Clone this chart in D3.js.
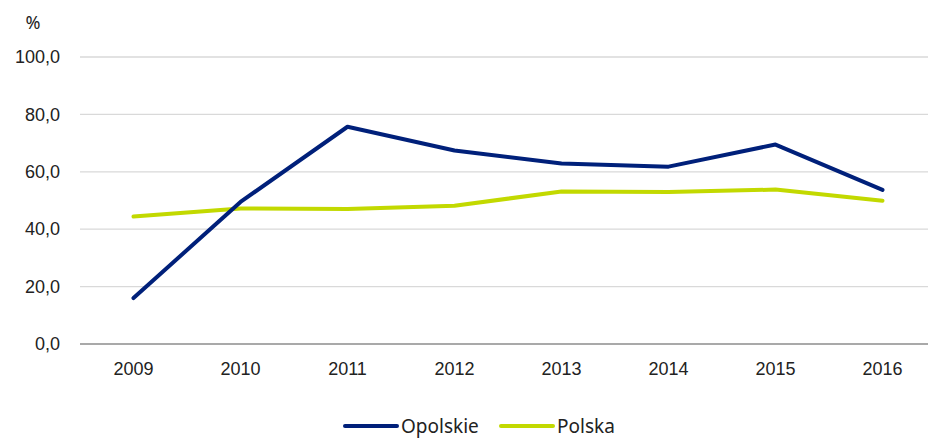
<!DOCTYPE html>
<html>
<head>
<meta charset="utf-8">
<script src="https://cdn.jsdelivr.net/npm/d3@7"></script>
<style>
  body { margin: 0; background: #fff; }
  svg { display: block; font-family: "Noto Sans", sans-serif; }
</style>
</head>
<body>
<div id="chart"></div>
<script>
const years = ['2009', '2010', '2011', '2012', '2013', '2014', '2015', '2016'];
const opolskie = [16.0, 49.5, 75.7, 67.4, 62.9, 61.8, 69.5, 53.7];
const polska = [44.4, 47.2, 47.0, 48.2, 53.1, 53.0, 53.8, 49.9];
const yTicks = [0, 20, 40, 60, 80, 100];

const width = 928, height = 439;
const margin = {top: 57, right: -8, bottom: 95, left: 80};

const svg = d3.select('#chart')
    .append('svg')
    .attr('width', width)
    .attr('height', height);

const x = d3.scaleBand()
    .domain(years)
    .range([margin.left, width - margin.right])
    .padding(0);

const y = d3.scaleLinear()
    .domain([0, 100])
    .range([height - margin.bottom, margin.top]);

// gridlines
svg.append('g')
    .selectAll('line')
    .data(yTicks.filter(d => d > 0))
    .enter()
    .append('line')
    .attr('x1', margin.left)
    .attr('x2', width)
    .attr('y1', d => y(d))
    .attr('y2', d => y(d))
    .attr('stroke', '#d9d9d9')
    .attr('stroke-width', 1.3);

// y axis labels
const yAxis = svg.append('g')
    .attr('transform', `translate(${margin.left},0)`)
    .call(d3.axisLeft(y).tickValues(yTicks).tickSize(0).tickPadding(20)
        .tickFormat(d => d3.format('.1f')(d).replace('.', ',')));
yAxis.select('.domain').remove();
yAxis.selectAll('text').attr('font-size', 18).attr('fill', '#222');

// x axis
const xAxis = svg.append('g')
    .attr('transform', `translate(0,${y(0)})`)
    .call(d3.axisBottom(x).tickSize(0).tickPadding(18));
xAxis.select('.domain').attr('stroke', '#8c8c8c').attr('stroke-width', 1.6)
    .attr('d', `M${margin.left},0H${width}`);
xAxis.selectAll('text').attr('font-size', 18).attr('fill', '#222');

svg.append('text')
    .attr('x', 33)
    .attr('y', 29)
    .attr('text-anchor', 'middle')
    .attr('font-size', 18)
    .attr('fill', '#222')
    .text('%');

const line = d3.line()
    .x((d, i) => x(years[i]) + x.bandwidth() / 2)
    .y(d => y(d));

const series = [
    {name: 'Opolskie', values: opolskie, color: '#00207a'},
    {name: 'Polska', values: polska, color: '#c2d900'}
];

// draw Polska first so Opolskie is on top
series.slice().reverse().forEach(s => {
    svg.append('path')
        .datum(s.values)
        .attr('d', line)
        .attr('fill', 'none')
        .attr('stroke', s.color)
        .attr('stroke-width', 4)
        .attr('stroke-linecap', 'round')
        .attr('stroke-linejoin', 'round');
});

// legend
const legendX = [345, 501];
series.forEach((s, i) => {
    const g = svg.append('g').attr('transform', `translate(${legendX[i]},426)`);
    g.append('line')
        .attr('x1', 0).attr('x2', 52)
        .attr('stroke', s.color)
        .attr('stroke-width', 4)
        .attr('stroke-linecap', 'round');
    g.append('text')
        .attr('x', 56)
        .attr('y', 7)
        .attr('font-size', 19)
        .attr('fill', '#222')
        .text(s.name);
});
</script>
</body>
</html>
